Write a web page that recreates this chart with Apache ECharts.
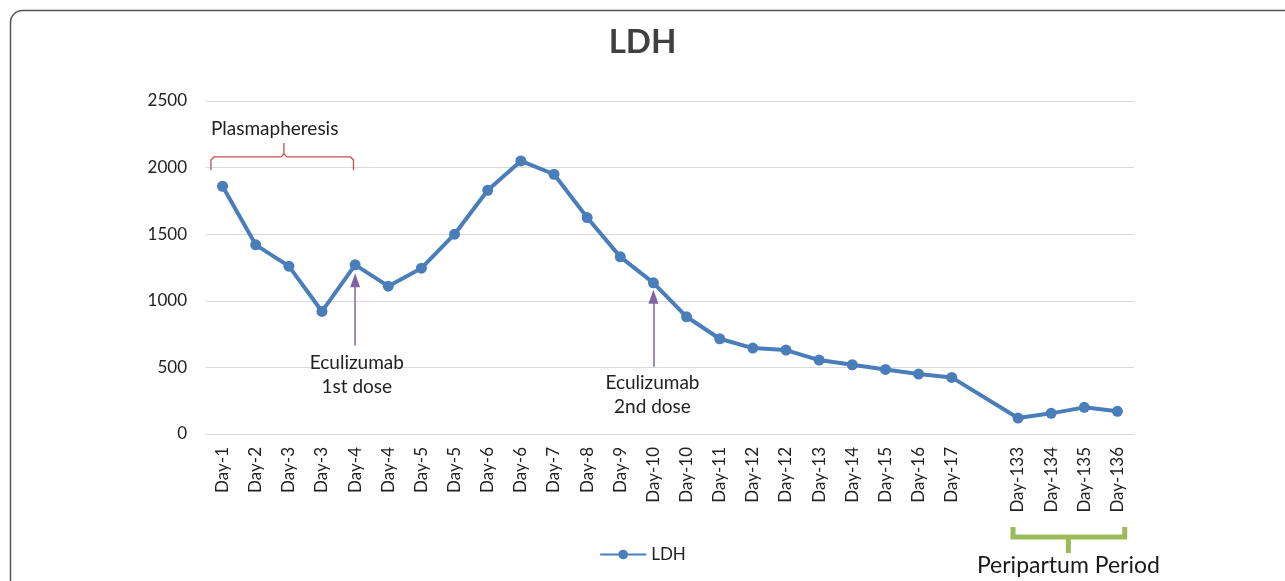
<!DOCTYPE html>
<html><head><meta charset="utf-8">
<script src="https://cdn.jsdelivr.net/npm/echarts@6/dist/echarts.min.js"></script>
<style>html,body{margin:0;padding:0;background:#fff}#c{width:1285px;height:581px}</style>
</head><body><div id="c"></div>
<script>
const categories = ['Day-1','Day-2','Day-3','Day-3','Day-4','Day-4','Day-5','Day-5','Day-6','Day-6','Day-7','Day-8','Day-9','Day-10','Day-10','Day-11','Day-12','Day-12','Day-13','Day-14','Day-15','Day-16','Day-17','','Day-133','Day-134','Day-135','Day-136'];
const ldhValues = [1860,1420,1260,920,1270,1110,1245,1500,1830,2050,1950,1625,1330,1135,880,715,645,630,555,520,485,450,425,null,120,155,200,170];
const yTicks = [0,500,1000,1500,2000,2500];

const FONT = 'Lato, "Open Sans", sans-serif';
const chart = echarts.init(document.getElementById('c'));
const option = {
  animation: false,
  backgroundColor: '#fff',
  title: {text: 'LDH', left: 'center', top: 21, textStyle: {fontFamily: FONT, fontSize: 33, fontWeight: 'bold', color: '#404040'}},
  legend: {data: ['LDH'], left: 'center', top: 541, itemWidth: 46, itemHeight: 12, itemGap: 6,
    textStyle: {fontFamily: FONT, fontSize: 17, color: '#222'}},
  grid: {left: 206, right: 151, top: 101, bottom: 147},
  xAxis: {type: 'category', data: categories, boundaryGap: true,
    axisLine: {show: true, lineStyle: {color: '#d9d9d9', width: 1}},
    axisTick: {show: false},
    axisLabel: {rotate: 90, interval: 0, margin: 13, fontFamily: FONT, fontSize: 17, color: '#222'}},
  yAxis: {type: 'value', min: 0, max: yTicks[yTicks.length-1], interval: 500,
    axisLine: {show: false}, axisTick: {show: false},
    axisLabel: {margin: 19, fontFamily: FONT, fontSize: 17, color: '#222', formatter: v => String(v)},
    splitLine: {lineStyle: {color: '#d9d9d9', width: 1}}},
  series: [{
    name: 'LDH', type: 'line', data: ldhValues, connectNulls: true,
    symbol: 'circle', symbolSize: 11,
    itemStyle: {color: '#4a7ebb'},
    lineStyle: {color: '#4a7ebb', width: 4},
    markLine: {silent: true, symbol: ['none', 'triangle'], symbolSize: [10, 14], label: {show: false},
      lineStyle: {color: '#8064a2', width: 1.5, type: 'solid'},
      data: [
        [{coord: [4, 665]}, {coord: [4, 1155]}],
        [{coord: [13, 505]}, {coord: [13, 1030]}]
      ]}
  }]
};
chart.setOption(option);

const p0 = chart.convertToPixel({gridIndex: 0}, [0, 0]);
const p1 = chart.convertToPixel({gridIndex: 0}, [1, 0]);
const step = p1[0] - p0[0];
function X(i) { return p0[0] + i * step; }
function Y(v) { return chart.convertToPixel({gridIndex: 0}, [0, v])[1]; }
const g = [];
g.push({type: 'rect', shape: {x: 10.5, y: 10.5, width: 1300, height: 600, r: 12}, style: {fill: 'none', stroke: '#555', lineWidth: 1.5}, z: 100});
const xl = X(-0.35), xr = X(3.95), xm = X(1.85), yb = Y(1980), yh = Y(2080), yp = Y(2185);
g.push({type: 'polyline', shape: {points: [[xl, yb], [xl, yh+3], [xl+3, yh], [xm-3, yh], [xm, yh-3], [xm, yp], [xm, yh-3], [xm+3, yh], [xr-3, yh], [xr, yh+3], [xr, yb]]},
  style: {fill: 'none', stroke: '#c0504d', lineWidth: 1.3}, z: 100});
function txt(x, y, s, size, align) {
  g.push({type: 'text', x: x, y: y, z: 100, style: {text: s, fontFamily: FONT, fontSize: size, fill: '#222', align: align, verticalAlign: 'middle'}});
}
txt(X(-0.35), Y(2290), 'Plasmapheresis', 19, 'left');
txt(X(4.05), Y(533), 'Eculizumab', 19, 'center');
txt(X(4.05), Y(353), '1st dose', 19, 'center');
txt(X(12.97), Y(383), 'Eculizumab', 19, 'center');
txt(X(12.97), Y(203), '2nd dose', 19, 'center');
const gl = X(23.85), gr = X(27.22), gm = X(25.52);
g.push({type: 'polyline', shape: {points: [[gl, 527], [gl, 537], [gr, 537], [gr, 527]]}, style: {fill: 'none', stroke: '#9bbb59', lineWidth: 5}, z: 100});
g.push({type: 'line', shape: {x1: gm, y1: 537, x2: gm, y2: 553}, style: {stroke: '#9bbb59', lineWidth: 5}, z: 100});
g.push({type: 'text', x: gm, y: 566, z: 100, style: {text: 'Peripartum Period', fontFamily: FONT, fontSize: 23, fill: '#1a1a1a', align: 'center', verticalAlign: 'middle'}});
chart.setOption({graphic: {elements: g}});
</script></body></html>
